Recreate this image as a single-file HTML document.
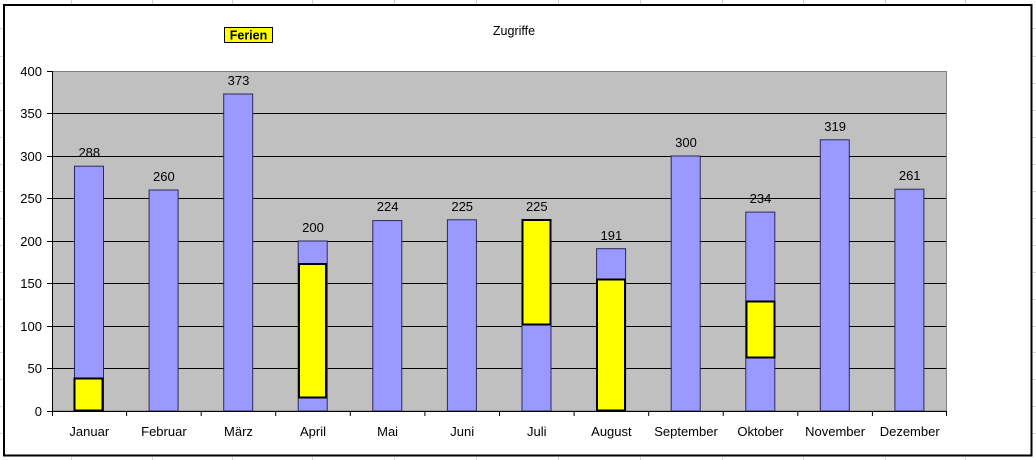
<!DOCTYPE html>
<html><head><meta charset="utf-8"><style>
html,body{margin:0;padding:0;background:#fff;}
svg{display:block;font-family:"Liberation Sans",Arial,sans-serif;}
</style></head><body>
<svg width="1036" height="460" viewBox="0 0 1036 460" xmlns="http://www.w3.org/2000/svg">
<rect width="1036" height="460" fill="#fff"/>
<g stroke="#d4d4d4" stroke-width="1">
<line x1="71.5" y1="0" x2="71.5" y2="4"/><line x1="152.5" y1="0" x2="152.5" y2="4"/><line x1="232.5" y1="0" x2="232.5" y2="4"/><line x1="312.5" y1="0" x2="312.5" y2="4"/><line x1="394.5" y1="0" x2="394.5" y2="4"/><line x1="476.5" y1="0" x2="476.5" y2="4"/><line x1="558.5" y1="0" x2="558.5" y2="4"/><line x1="640.5" y1="0" x2="640.5" y2="4"/><line x1="722.5" y1="0" x2="722.5" y2="4"/><line x1="803.5" y1="0" x2="803.5" y2="4"/><line x1="885.5" y1="0" x2="885.5" y2="4"/><line x1="965.5" y1="0" x2="965.5" y2="4"/>
<line x1="71.5" y1="457" x2="71.5" y2="460"/><line x1="152.5" y1="457" x2="152.5" y2="460"/><line x1="232.5" y1="457" x2="232.5" y2="460"/><line x1="312.5" y1="457" x2="312.5" y2="460"/><line x1="394.5" y1="457" x2="394.5" y2="460"/><line x1="476.5" y1="457" x2="476.5" y2="460"/><line x1="558.5" y1="457" x2="558.5" y2="460"/><line x1="640.5" y1="457" x2="640.5" y2="460"/><line x1="722.5" y1="457" x2="722.5" y2="460"/><line x1="803.5" y1="457" x2="803.5" y2="460"/><line x1="885.5" y1="457" x2="885.5" y2="460"/><line x1="965.5" y1="457" x2="965.5" y2="460"/>
<line x1="1033" y1="28.5" x2="1036" y2="28.5"/><line x1="1033" y1="56.5" x2="1036" y2="56.5"/><line x1="1033" y1="83.5" x2="1036" y2="83.5"/><line x1="1033" y1="110.5" x2="1036" y2="110.5"/><line x1="1033" y1="137.5" x2="1036" y2="137.5"/><line x1="1033" y1="164.5" x2="1036" y2="164.5"/><line x1="1033" y1="191.5" x2="1036" y2="191.5"/><line x1="1033" y1="218.5" x2="1036" y2="218.5"/><line x1="1033" y1="245.5" x2="1036" y2="245.5"/><line x1="1033" y1="272.5" x2="1036" y2="272.5"/><line x1="1033" y1="299.5" x2="1036" y2="299.5"/><line x1="1033" y1="326.5" x2="1036" y2="326.5"/><line x1="1033" y1="352.5" x2="1036" y2="352.5"/><line x1="1033" y1="379.5" x2="1036" y2="379.5"/><line x1="1033" y1="406.5" x2="1036" y2="406.5"/><line x1="1033" y1="433.5" x2="1036" y2="433.5"/>
<line x1="0" y1="28.5" x2="3" y2="28.5"/><line x1="0" y1="56.5" x2="3" y2="56.5"/><line x1="0" y1="83.5" x2="3" y2="83.5"/><line x1="0" y1="110.5" x2="3" y2="110.5"/><line x1="0" y1="137.5" x2="3" y2="137.5"/><line x1="0" y1="164.5" x2="3" y2="164.5"/><line x1="0" y1="191.5" x2="3" y2="191.5"/><line x1="0" y1="218.5" x2="3" y2="218.5"/><line x1="0" y1="245.5" x2="3" y2="245.5"/><line x1="0" y1="272.5" x2="3" y2="272.5"/><line x1="0" y1="299.5" x2="3" y2="299.5"/><line x1="0" y1="326.5" x2="3" y2="326.5"/><line x1="0" y1="352.5" x2="3" y2="352.5"/><line x1="0" y1="379.5" x2="3" y2="379.5"/><line x1="0" y1="406.5" x2="3" y2="406.5"/><line x1="0" y1="433.5" x2="3" y2="433.5"/>
</g>
<rect x="4" y="5" width="1027.5" height="450.5" fill="#fff" stroke="#000" stroke-width="2"/>
<text x="514" y="35" font-size="12.5" text-anchor="middle" fill="#000">Zugriffe</text>
<rect x="224.5" y="27.5" width="48" height="15" fill="#ffff00" stroke="#000" stroke-width="1"/>
<text x="248.5" y="39.5" font-size="12.5" font-weight="bold" text-anchor="middle" fill="#000">Ferien</text>
<rect x="52" y="71" width="895" height="340" fill="#c0c0c0"/>
<g stroke="#000" stroke-width="1">
<line x1="52" y1="113.5" x2="947" y2="113.5"/>
<line x1="52" y1="156.5" x2="947" y2="156.5"/>
<line x1="52" y1="198.5" x2="947" y2="198.5"/>
<line x1="52" y1="241.5" x2="947" y2="241.5"/>
<line x1="52" y1="283.5" x2="947" y2="283.5"/>
<line x1="52" y1="326.5" x2="947" y2="326.5"/>
<line x1="52" y1="368.5" x2="947" y2="368.5"/>
</g>
<rect x="52.5" y="71.5" width="894" height="339.5" fill="none" stroke="#808080" stroke-width="1"/>
<g fill="#9999ff" stroke="#2a2a5a" stroke-width="1">
<rect x="74.5" y="166.2" width="29" height="244.8"/>
<rect x="149.1" y="190" width="29" height="221"/>
<rect x="223.7" y="94" width="29" height="317"/>
<rect x="298.2" y="241" width="29" height="170"/>
<rect x="372.8" y="220.6" width="29" height="190.4"/>
<rect x="447.4" y="219.8" width="29" height="191.2"/>
<rect x="522" y="219.8" width="29" height="191.2"/>
<rect x="596.6" y="248.7" width="29" height="162.3"/>
<rect x="671.2" y="156" width="29" height="255"/>
<rect x="745.8" y="212.1" width="29" height="198.9"/>
<rect x="820.3" y="139.8" width="29" height="271.2"/>
<rect x="894.9" y="189.2" width="29" height="221.8"/>
</g>
<g fill="#ffff00" stroke="#000" stroke-width="2">
<rect x="74.5" y="378.5" width="28" height="32"/>
<rect x="299" y="264" width="27" height="133.5"/>
<rect x="522.5" y="220" width="28" height="104.5"/>
<rect x="597" y="279.5" width="28" height="131"/>
<rect x="746.5" y="301.5" width="28" height="56"/>
</g>
<g stroke="#000" stroke-width="1">
<line x1="52.5" y1="71" x2="52.5" y2="411"/>
<line x1="52" y1="411.5" x2="947" y2="411.5"/>
<line x1="47" y1="71.5" x2="52" y2="71.5"/>
<line x1="47" y1="113.5" x2="52" y2="113.5"/>
<line x1="47" y1="156.5" x2="52" y2="156.5"/>
<line x1="47" y1="198.5" x2="52" y2="198.5"/>
<line x1="47" y1="241.5" x2="52" y2="241.5"/>
<line x1="47" y1="283.5" x2="52" y2="283.5"/>
<line x1="47" y1="326.5" x2="52" y2="326.5"/>
<line x1="47" y1="368.5" x2="52" y2="368.5"/>
<line x1="47" y1="411.5" x2="52" y2="411.5"/>
<line x1="52.5" y1="411" x2="52.5" y2="416"/>
<line x1="126.6" y1="411" x2="126.6" y2="416"/>
<line x1="201.2" y1="411" x2="201.2" y2="416"/>
<line x1="275.7" y1="411" x2="275.7" y2="416"/>
<line x1="350.3" y1="411" x2="350.3" y2="416"/>
<line x1="424.9" y1="411" x2="424.9" y2="416"/>
<line x1="499.5" y1="411" x2="499.5" y2="416"/>
<line x1="574.1" y1="411" x2="574.1" y2="416"/>
<line x1="648.7" y1="411" x2="648.7" y2="416"/>
<line x1="723.2" y1="411" x2="723.2" y2="416"/>
<line x1="797.8" y1="411" x2="797.8" y2="416"/>
<line x1="872.4" y1="411" x2="872.4" y2="416"/>
<line x1="946.5" y1="411" x2="946.5" y2="416"/>
</g>
<g font-size="13" text-anchor="end" fill="#000">
<text x="42" y="76">400</text>
<text x="42" y="118">350</text>
<text x="42" y="161">300</text>
<text x="42" y="203">250</text>
<text x="42" y="246">200</text>
<text x="42" y="288">150</text>
<text x="42" y="331">100</text>
<text x="42" y="373">50</text>
<text x="42" y="416">0</text>
</g>
<g font-size="13" text-anchor="middle" fill="#000">
<text x="89.3" y="436">Januar</text>
<text x="163.9" y="436">Februar</text>
<text x="238.5" y="436">März</text>
<text x="313" y="436">April</text>
<text x="387.6" y="436">Mai</text>
<text x="462.2" y="436">Juni</text>
<text x="536.8" y="436">Juli</text>
<text x="611.4" y="436">August</text>
<text x="686" y="436">September</text>
<text x="760.5" y="436">Oktober</text>
<text x="835.1" y="436">November</text>
<text x="909.7" y="436">Dezember</text>
</g>
<g font-size="13" text-anchor="middle" fill="#000">
<text x="89.3" y="157">288</text>
<text x="163.9" y="181">260</text>
<text x="238.5" y="85">373</text>
<text x="313" y="232">200</text>
<text x="387.6" y="211">224</text>
<text x="462.2" y="211">225</text>
<text x="536.8" y="211">225</text>
<text x="611.4" y="240">191</text>
<text x="686" y="147">300</text>
<text x="760.5" y="203">234</text>
<text x="835.1" y="131">319</text>
<text x="909.7" y="180">261</text>
</g>
</svg>
</body></html>
